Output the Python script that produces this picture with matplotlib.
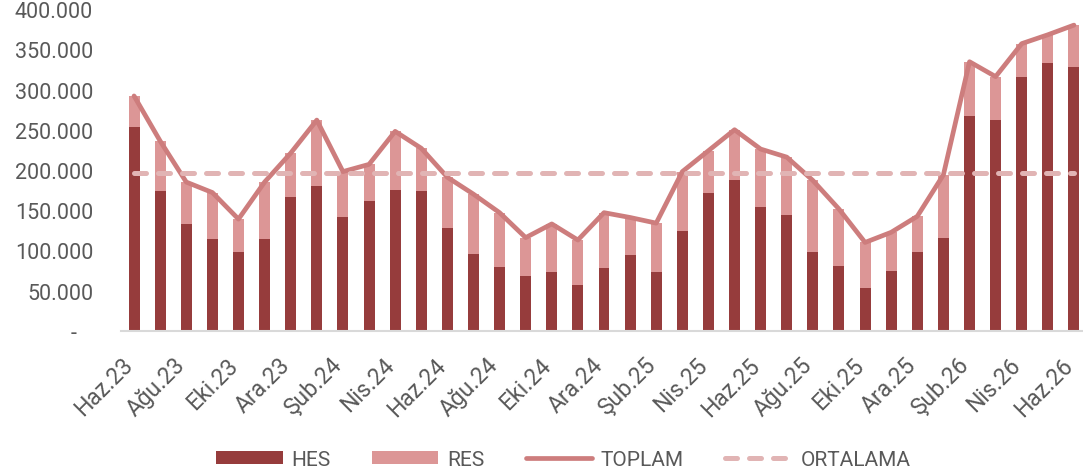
import matplotlib.pyplot as plt
import numpy as np
from matplotlib.ticker import FuncFormatter

# Aylar (Haz.23 - Haz.26)
aylar = ['Haz.23', 'Tem.23', 'Ağu.23', 'Eyl.23', 'Eki.23', 'Kas.23', 'Ara.23',
         'Oca.24', 'Şub.24', 'Mar.24', 'Nis.24', 'May.24', 'Haz.24', 'Tem.24',
         'Ağu.24', 'Eyl.24', 'Eki.24', 'Kas.24', 'Ara.24', 'Oca.25', 'Şub.25',
         'Mar.25', 'Nis.25', 'May.25', 'Haz.25', 'Tem.25', 'Ağu.25', 'Eyl.25',
         'Eki.25', 'Kas.25', 'Ara.25', 'Oca.26', 'Şub.26', 'Mar.26', 'Nis.26',
         'May.26', 'Haz.26']

hes = [253000, 174000, 133000, 114000, 98500, 114000, 166000, 180000, 142000,
       162000, 175500, 174000, 127500, 95700, 80000, 68700, 73700, 57000,
       78000, 94400, 73700, 124600, 172000, 187000, 154000, 144500, 98500,
       80300, 53400, 75000, 98500, 115000, 267500, 262500, 316000, 332500,
       328000]

toplam = [292000, 236000, 185000, 172000, 139000, 185000, 221000, 262000,
          198000, 207000, 248000, 227000, 191000, 170000, 147000, 116000,
          133000, 113000, 147000, 141000, 134000, 198000, 224000, 250000,
          226000, 216000, 187000, 151500, 110000, 122600, 142500, 194000,
          334500, 316000, 357000, 368000, 380000]

res = [t - h for t, h in zip(toplam, hes)]
ortalama = 196000

renk_hes = '#963c3c'
renk_res = '#dc9696'
renk_toplam = '#cd7d7d'
renk_ort = '#e1b4b4'
renk_yazi = '#595959'

plt.rcParams['font.family'] = ['Roboto', 'DejaVu Sans']

fig = plt.figure(figsize=(10.83, 4.77), dpi=100)
ax = fig.add_axes([121 / 1083, 0.304, 966 / 1083, 0.675])

x = np.arange(len(aylar))
b1 = ax.bar(x, hes, width=0.42, color=renk_hes, label='HES', zorder=2)
b2 = ax.bar(x, res, width=0.42, bottom=hes, color=renk_res, label='RES', zorder=2)
l1, = ax.plot(x, toplam, color=renk_toplam, lw=3.4, solid_capstyle='round',
              solid_joinstyle='round', label='TOPLAM', zorder=3)
l2, = ax.plot(x, [ortalama] * len(x), color=renk_ort, lw=3.6, dashes=(2.4, 2.4),
              dash_capstyle='round', label='ORTALAMA', zorder=3)

ax.set_xlim(-0.5, len(aylar) - 0.5)
ax.set_ylim(0, 400000)
ax.set_yticks(np.arange(0, 400001, 50000))
ax.yaxis.set_major_formatter(FuncFormatter(
    lambda v, p: '-   ' if v == 0 else f'{int(v):,}'.replace(',', '.')))

ax.set_xticks(x[::2])
ax.set_xticklabels(aylar[::2], rotation=45, ha='right', va='baseline',
                   rotation_mode='anchor')

for s in ['top', 'right', 'left']:
    ax.spines[s].set_visible(False)
ax.spines['bottom'].set_color('#d9d9d9')
ax.spines['bottom'].set_linewidth(1.5)
ax.tick_params(axis='both', length=0, colors=renk_yazi)
ax.tick_params(axis='y', labelsize=15.5, pad=20)
ax.tick_params(axis='x', labelsize=16.5, pad=25)

leg = fig.legend([b1, b2, l1, l2], ['HES', 'RES', 'TOPLAM', 'ORTALAMA'],
                 loc='center', bbox_to_anchor=(0.52, 0.035), ncol=4,
                 frameon=False, fontsize=15, handlelength=3.2,
                 handleheight=0.65, columnspacing=2.0, handletextpad=0.4)
for t in leg.get_texts():
    t.set_color(renk_yazi)

fig.savefig('out.png', dpi=100)
